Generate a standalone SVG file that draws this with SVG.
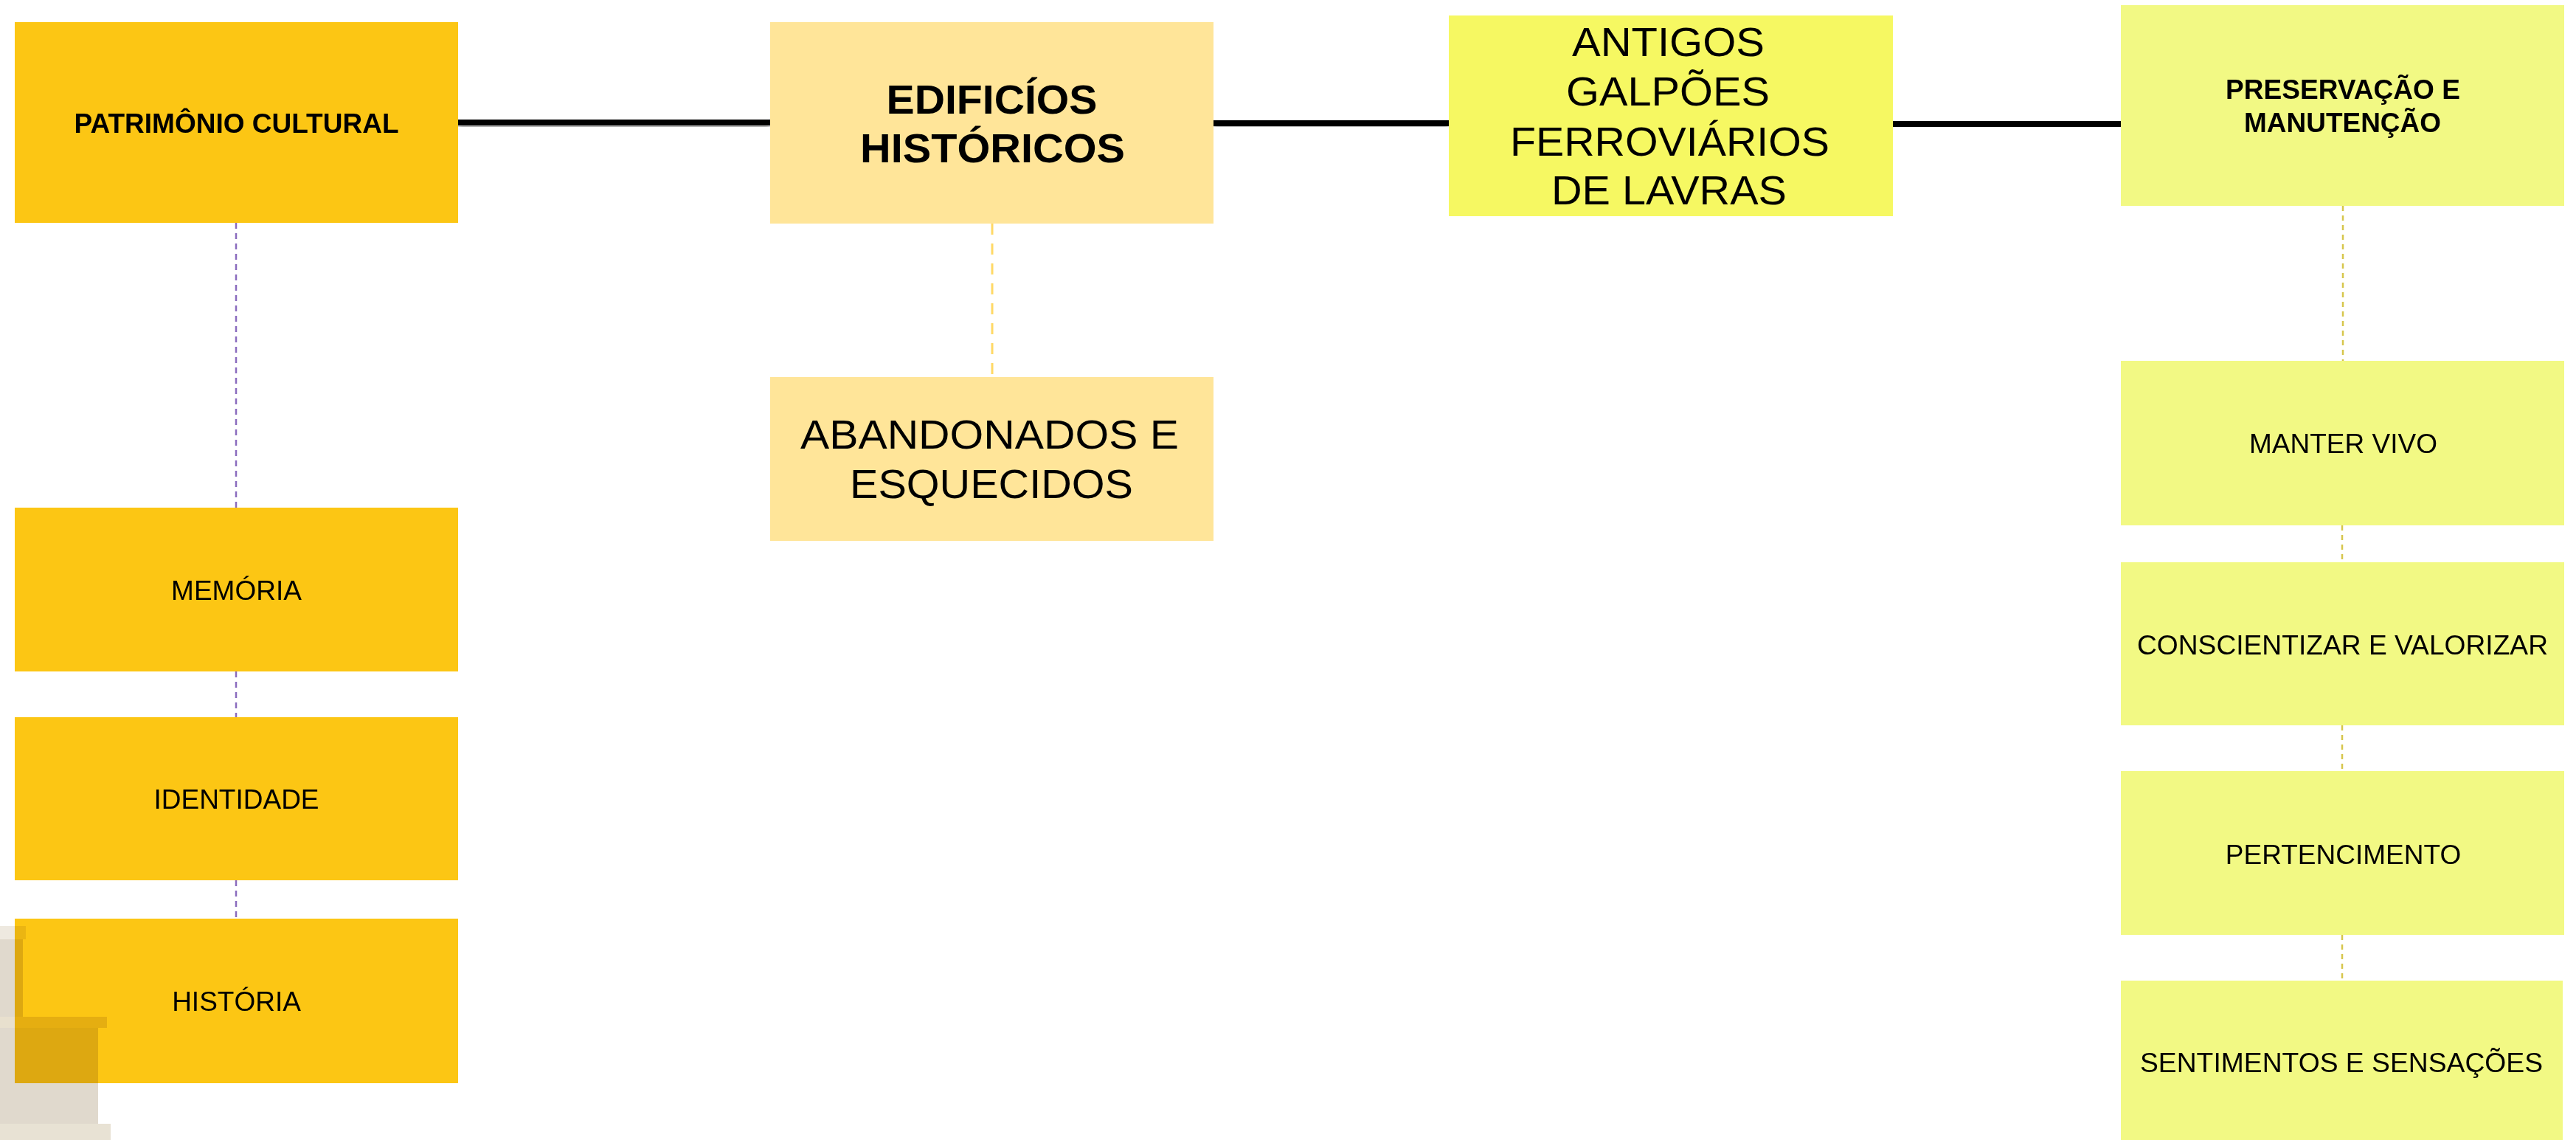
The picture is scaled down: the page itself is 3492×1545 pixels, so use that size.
<svg xmlns="http://www.w3.org/2000/svg" width="3492" height="1545" viewBox="0 0 3492 1545">
  <defs>
    <filter id="shadow" x="-5%" y="-200%" width="110%" height="500%">
      <feDropShadow dx="0" dy="6" stdDeviation="3" flood-color="#000" flood-opacity="0.4"/>
    </filter>
    <style>
      .t { font-family: "Liberation Sans", Arial, sans-serif; fill: #000; text-anchor: middle; }
      .b { font-weight: bold; }
      .gold { fill: #FCC614; }
      .cream { fill: #FFE599; }
      .lemon { fill: #F6F862; }
      .lime { fill: #F2F984; }
      .main { stroke: #000; stroke-width: 8; fill: none; }
      .dp { stroke: #8A6BBE; stroke-width: 2.5; stroke-dasharray: 8 6; fill: none; }
      .dc { stroke: #FFD966; stroke-width: 3; stroke-dasharray: 15 12; fill: none; }
      .dy { stroke: #D6C64C; stroke-width: 2.5; stroke-dasharray: 7 6; fill: none; }
    </style>
  </defs>
  <rect width="3492" height="1545" fill="#fff"/>

  <g id="connectors">
    <g filter="url(#shadow)">
      <line class="main" x1="621" y1="166" x2="1044" y2="166"/>
      <line class="main" x1="1645" y1="167" x2="1964" y2="167"/>
      <line class="main" x1="2566" y1="168" x2="2875" y2="168"/>
    </g>
    <line class="dp" x1="320" y1="302" x2="320" y2="688"/>
    <line class="dp" x1="320" y1="910" x2="320" y2="972"/>
    <line class="dp" x1="320" y1="1193" x2="320" y2="1245"/>
    <line class="dc" x1="1345" y1="303" x2="1345" y2="511"/>
    <line class="dy" x1="3176" y1="279" x2="3176" y2="489"/>
    <line class="dy" x1="3175" y1="712" x2="3175" y2="762"/>
    <line class="dy" x1="3175" y1="983" x2="3175" y2="1045"/>
    <line class="dy" x1="3175" y1="1267" x2="3175" y2="1329"/>
  </g>

  <g id="patrimonio-cultural">
    <rect class="gold" x="20" y="30" width="601" height="272"/>
    <text class="t b" x="320.5" y="180" font-size="36.5" textLength="440" lengthAdjust="spacingAndGlyphs">PATRIMÔNIO CULTURAL</text>
  </g>
  <g id="memoria">
    <rect class="gold" x="20" y="688" width="601" height="222"/>
    <text class="t" x="320.5" y="813" font-size="37">MEMÓRIA</text>
  </g>
  <g id="identidade">
    <rect class="gold" x="20" y="972" width="601" height="221"/>
    <text class="t" x="320.5" y="1096" font-size="37">IDENTIDADE</text>
  </g>
  <g id="historia">
    <rect class="gold" x="20" y="1245" width="601" height="223"/>
    <text class="t" x="320.5" y="1370" font-size="37">HISTÓRIA</text>
  </g>

  <g id="edificios-historicos">
    <rect class="cream" x="1044" y="30" width="601" height="273"/>
    <text class="t b" x="1344.5" y="154" font-size="55" textLength="286" lengthAdjust="spacingAndGlyphs">EDIFICÍOS</text>
    <text class="t b" x="1345.5" y="220" font-size="55" textLength="359" lengthAdjust="spacingAndGlyphs">HISTÓRICOS</text>
  </g>
  <g id="abandonados-esquecidos">
    <rect class="cream" x="1044" y="511" width="601" height="222"/>
    <text class="t" x="1341.5" y="608" font-size="56" textLength="513" lengthAdjust="spacingAndGlyphs">ABANDONADOS E</text>
    <text class="t" x="1344" y="675" font-size="56" textLength="384" lengthAdjust="spacingAndGlyphs">ESQUECIDOS</text>
  </g>

  <g id="antigos-galpoes">
    <rect class="lemon" x="1964" y="21" width="602" height="272"/>
    <text class="t" x="2261.5" y="76" font-size="55" textLength="261" lengthAdjust="spacingAndGlyphs">ANTIGOS</text>
    <text class="t" x="2261" y="143" font-size="55" textLength="276" lengthAdjust="spacingAndGlyphs">GALPÕES</text>
    <text class="t" x="2263.5" y="211" font-size="55" textLength="433" lengthAdjust="spacingAndGlyphs">FERROVIÁRIOS</text>
    <text class="t" x="2262.5" y="277" font-size="55" textLength="319" lengthAdjust="spacingAndGlyphs">DE LAVRAS</text>
  </g>

  <g id="preservacao-manutencao">
    <rect class="lime" x="2875" y="7" width="601" height="272"/>
    <text class="t b" x="3176" y="134" font-size="36.5" textLength="318" lengthAdjust="spacingAndGlyphs">PRESERVAÇÃO E</text>
    <text class="t b" x="3175.5" y="179" font-size="36.5" textLength="267" lengthAdjust="spacingAndGlyphs">MANUTENÇÃO</text>
  </g>
  <g id="manter-vivo">
    <rect class="lime" x="2875" y="489" width="601" height="223"/>
    <text class="t" x="3176.5" y="614" font-size="37">MANTER VIVO</text>
  </g>
  <g id="conscientizar-valorizar">
    <rect class="lime" x="2875" y="762" width="601" height="221"/>
    <text class="t" x="3175.5" y="887" font-size="37" textLength="557" lengthAdjust="spacingAndGlyphs">CONSCIENTIZAR E VALORIZAR</text>
  </g>
  <g id="pertencimento">
    <rect class="lime" x="2875" y="1045" width="601" height="222"/>
    <text class="t" x="3176.5" y="1171" font-size="37">PERTENCIMENTO</text>
  </g>
  <g id="sentimentos-sensacoes">
    <rect class="lime" x="2875" y="1329" width="599" height="222"/>
    <text class="t" x="3174" y="1453" font-size="37" textLength="546" lengthAdjust="spacingAndGlyphs">SENTIMENTOS E SENSAÇÕES</text>
  </g>

  <g id="background-fragment" style="mix-blend-mode: multiply">
    <rect x="0" y="1255" width="35" height="18" fill="#EEE9E0"/>
    <rect x="0" y="1273" width="31" height="106" fill="#E0D9CD"/>
    <rect x="0" y="1378" width="145" height="15" fill="#E8E0CE"/>
    <rect x="0" y="1393" width="133" height="130" fill="#E0D9CD"/>
    <rect x="0" y="1523" width="150" height="22" fill="#E8E2D4"/>
  </g>
</svg>
